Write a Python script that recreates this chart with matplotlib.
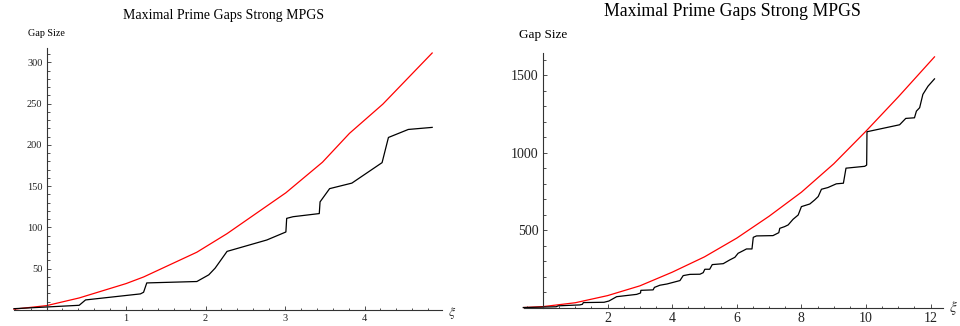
#!/usr/bin/env python3
"""
Maximal prime gaps vs. strong MPGS bound, two ranges of xi side by side.
"""

import matplotlib

matplotlib.use("Agg")
import matplotlib.pyplot as plt
from matplotlib.ticker import FixedLocator, MultipleLocator

plt.rcParams["font.family"] = ["Liberation Serif", "DejaVu Serif"]
plt.rcParams["mathtext.fontset"] = "stix"

TITLE = "Maximal Prime Gaps Strong MPGS"
YLABEL = "Gap Size"

# left panel: small xi range
left_gap_xi = [-0.41, 0.41, 0.49, 1.18, 1.22, 1.26, 1.89, 2.04, 2.12, 2.27, 2.77,
               3.01, 3.02, 3.10, 3.43, 3.44, 3.56, 3.84, 4.22, 4.30, 4.55, 4.85]
left_gap = [1.6, 5.7, 12.2, 19.5, 21.5, 32.8, 34.5, 42.6, 50.7, 71, 84.8,
            94.5, 111, 113, 116.8, 131, 147, 153.7, 178.5, 209, 218.7, 221.2]
left_mpgs_xi = [-0.41, 0.0, 0.41, 1.0, 1.22, 1.89, 2.27, 3.01, 3.47, 3.81, 4.23, 4.85]
left_mpgs = [1.0, 5.3, 14.6, 32, 40, 70, 92.5, 142, 179, 214, 249.4, 311.3]

# right panel: full xi range
right_gap_xi = [-0.61, 0.41, 0.47, 1.14, 1.22, 1.25, 1.89, 2.04, 2.28, 2.9, 3.02, 3.03,
                3.41, 3.45, 3.62, 3.84, 4.24, 4.34, 4.55, 4.86, 4.96, 5.01, 5.16, 5.24,
                5.58, 5.78, 5.94, 6.04, 6.20, 6.30, 6.47, 6.51, 6.61, 7.12, 7.30, 7.33,
                7.48, 7.59, 7.74, 7.90, 8.0, 8.26, 8.41, 8.52, 8.62, 8.82, 9.08, 9.30,
                9.38, 9.96, 10.02, 10.03, 11.04, 11.23, 11.5, 11.56, 11.66, 11.76,
                11.92, 12.12]
right_gap = [1, 6, 12, 18, 22, 33, 35, 43, 71, 86, 95, 112,
             115, 131, 145, 153, 175, 207, 215, 216, 226, 248, 248, 278,
             284, 308, 325, 351, 368, 379, 379, 454, 463, 465, 484, 512,
             523, 534, 570, 598, 652, 669, 695, 717, 764, 775, 799, 803,
             900, 912, 920, 1135, 1180, 1221, 1225, 1268, 1290, 1376,
             1429, 1476]
right_mpgs_xi = [-0.6, 0, 1, 2, 3, 4, 5, 6, 7, 8, 9, 10, 11, 12.12]
right_mpgs = [1, 7, 32, 78, 141, 229, 328, 449, 590, 745, 928, 1139, 1360, 1618]

AXIS_COLOR = "#333333"


def style_axes(ax, major_x, minor_x, major_y, minor_y, lab_size):
    for side in ("top", "right"):
        ax.spines[side].set_visible(False)
    ax.spines["left"].set_position(("data", 0))
    ax.spines["bottom"].set_position(("data", 0))
    for side in ("left", "bottom"):
        ax.spines[side].set_color(AXIS_COLOR)
        ax.spines[side].set_linewidth(0.8)
    ax.xaxis.set_major_locator(FixedLocator(major_x))
    ax.xaxis.set_minor_locator(MultipleLocator(minor_x))
    ax.yaxis.set_major_locator(FixedLocator(major_y))
    ax.yaxis.set_minor_locator(MultipleLocator(minor_y))
    ax.tick_params(which="both", direction="in", color=AXIS_COLOR, width=0.6,
                   labelsize=lab_size, labelcolor="#222222")
    ax.tick_params(which="major", length=3.2, pad=3)
    ax.tick_params(which="minor", length=1.8)
    ax.patch.set_visible(False)


fig = plt.figure(figsize=(9.6, 3.26), dpi=100)
W, H = 960.0, 326.0

# left panel
ax1 = fig.add_axes([14 / W, 1 - 310 / H, (441.7 - 14) / W, (310 - 48.3) / H])
ax1.plot(left_mpgs_xi, left_mpgs, color="#ff0000", lw=0.9, clip_on=False)
ax1.plot(left_gap_xi, left_gap, color="black", lw=0.9, clip_on=False)
ax1.set_xlim(-0.41, 4.97)
ax1.set_ylim(0, 317)
style_axes(ax1, [1, 2, 3, 4], 0.2, [50, 100, 150, 200, 250, 300], 10, 7.5)
fig.text(223.5 / W, 1 - 15 / H, TITLE, ha="center", va="center", fontsize=10)
fig.text(27.5 / W, 1 - 33 / H, YLABEL, ha="left", va="center", fontsize=7.3)
fig.text(452 / W, 1 - 313 / H, r"$\xi$", ha="center", va="center", fontsize=10, color="#333333")

# right panel
ax2 = fig.add_axes([523.6 / W, 1 - 307.7 / H, (942.9 - 523.6) / W, (307.7 - 53.3) / H])
ax2.plot(right_mpgs_xi, right_mpgs, color="#ff0000", lw=0.9, clip_on=False)
ax2.plot(right_gap_xi, right_gap, color="black", lw=0.9, clip_on=False)
ax2.set_xlim(-0.6, 12.38)
ax2.set_ylim(0, 1641)
style_axes(ax2, [2, 4, 6, 8, 10, 12], 0.5, [500, 1000, 1500], 100, 10)
fig.text(732 / W, 1 - 12 / H, TITLE, ha="center", va="center", fontsize=12.8)
fig.text(519 / W, 1 - 35 / H, YLABEL, ha="left", va="center", fontsize=9.5)
fig.text(953 / W, 1 - 308 / H, r"$\xi$", ha="center", va="center", fontsize=11, color="#333333")

fig.savefig("out.png", dpi=100)
